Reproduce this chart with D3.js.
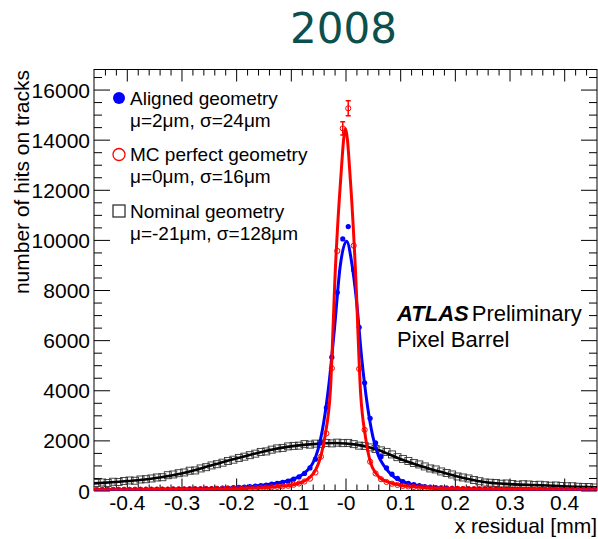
<!DOCTYPE html>
<html><head><meta charset="utf-8">
<script src="https://cdn.jsdelivr.net/npm/d3@7"></script>
<style>
body{margin:0;background:#fff}
svg{display:block}
text{font-family:"Liberation Sans",Arial,Helvetica,sans-serif;fill:#000}
</style>
</head><body>
<svg id="c" width="598" height="539"></svg>
<script>
// ---- data ----
const binLow = -0.46, binWidth = 0.01;
const nominalCounts = [300,320,300,350,340,380,400,390,440,450,480,520,530,610,640,690,720,790,800,880,
  930,1000,1050,1110,1180,1230,1300,1350,1410,1470,1540,1560,1630,1680,1700,1760,1780,1790,1850,1830,
  1870,1860,1900,1880,1910,1890,1900,1850,1790,1780,1720,1660,1600,1540,1440,1330,1260,1180,1100,1040,
  960,880,840,760,700,640,560,520,480,420,370,320,310,300,270,280,260,230,250,240,
  220,230,210,190,200,180,170,170,150,140,140,120];
const alignedCounts = [30,32,31,34,35,36,38,39,41,42,44,46,48,50,52,55,58,62,66,70,
  75,80,86,92,100,112,128,140,155,175,200,220,255,290,330,380,450,540,680,900,
  1250,1900,3300,5320,7900,10040,10530,8800,6515,4300,2880,1900,1350,900,650,480,360,290,240,195,
  160,135,118,102,92,82,75,70,64,60,56,53,50,48,46,44,42,41,40,38,
  37,36,35,34,33,32,31,30,30,29,28,28];
const mcCounts = [25,28,26,30,28,32,30,34,33,36,35,38,40,38,42,45,44,48,50,52,
  55,58,62,65,70,74,80,85,92,100,110,118,130,145,165,190,230,280,360,470,
  720,1350,2280,4880,9560,14450,15250,9770,4850,2420,1150,680,450,340,270,220,185,160,140,125,
  112,100,92,85,78,72,68,62,58,55,52,50,47,45,42,40,40,37,36,34,
  33,32,30,30,28,28,27,26,25,25,24,23];
const mcPeakBins = [45, 46];
const mcPeakErrors = [260, 300];

const alignedFitX = [-0.46,-0.40,-0.35,-0.30,-0.25,-0.22,-0.19,-0.16,-0.13,-0.11,-0.10,-0.09,-0.08,-0.07,-0.06,-0.05,-0.04,-0.03,-0.02,-0.01,0.002,0.012,0.02,0.03,0.04,0.05,0.06,0.07,0.08,0.09,0.10,0.11,0.12,0.14,0.16,0.18,0.20,0.25,0.30,0.35,0.40,0.46];
const alignedFitY = [30,38,45,55,70,90,130,190,280,360,420,500,620,800,1080,1650,2700,4300,6500,8900,9950,9000,7600,5200,3400,2150,1400,1000,720,520,400,310,250,170,120,90,70,50,42,36,32,28];
const mcFitX = [-0.46,-0.40,-0.35,-0.30,-0.25,-0.20,-0.15,-0.12,-0.1012,-0.092,-0.0828,-0.0736,-0.0644,-0.0552,-0.046,-0.0368,-0.0276,-0.0184,-0.0092,0,0.0092,0.0184,0.0276,0.0368,0.046,0.0552,0.0644,0.0736,0.0828,0.092,0.1012,0.12,0.15,0.20,0.25,0.30,0.35,0.40,0.46];
const mcFitY = [25,30,36,44,54,70,110,160,210,250,310,400,540,800,1300,2250,4000,8900,12300,14450,12300,8700,3900,2100,1100,700,480,370,300,250,210,155,105,68,52,42,36,30,25];
const nominalFitX = [-0.46,-0.42,-0.38,-0.34,-0.30,-0.26,-0.22,-0.18,-0.14,-0.10,-0.06,-0.02,0.02,0.06,0.10,0.14,0.18,0.22,0.26,0.30,0.34,0.38,0.42,0.46];
const nominalFitY = [285,340,410,520,680,910,1160,1390,1610,1760,1850,1895,1830,1620,1260,960,710,480,320,255,220,190,150,125];

const xMajorTicks = [-0.4,-0.3,-0.2,-0.1,0,0.1,0.2,0.3,0.4];
const xTickLabels = ["-0.4","-0.3","-0.2","-0.1","-0","0.1","0.2","0.3","0.4"];
const yMajorTicks = [0,2000,4000,6000,8000,10000,12000,14000,16000];

const legendEntries = [
  {name:"Aligned geometry", params:"\u03bc=2\u03bcm, \u03c3=24\u03bcm", kind:"dot", color:"#0000ff"},
  {name:"MC perfect geometry", params:"\u03bc=0\u03bcm, \u03c3=16\u03bcm", kind:"circle", color:"#ff0000"},
  {name:"Nominal geometry", params:"\u03bc=-21\u03bcm, \u03c3=128\u03bcm", kind:"square", color:"#000000"}
];

// ---- layout ----
const svg = d3.select("#c");
const F = {l:94, r:597, t:69.5, b:490.5};
const x = d3.scaleLinear().domain([-0.46,0.46]).range([F.l,F.r]);
const y = d3.scaleLinear().domain([0,16800]).range([F.b,F.t]);

svg.append("text").attr("x",343.5).attr("y",43).attr("text-anchor","middle")
  .style("font-family","'DejaVu Sans',sans-serif").style("font-size","42px").style("fill","#0d4f4c")
  .text("2008");

svg.append("clipPath").attr("id","clip").append("rect")
  .attr("x",F.l).attr("y",F.t).attr("width",F.r-F.l).attr("height",F.b-F.t);

// axes
const xMinor = d3.range(-22,23).map(k=>k*0.02).filter(v=>Math.abs(v*10-Math.round(v*10))>1e-6);
const yMinor = d3.range(0,16801,500).filter(v=>v%2000!==0);

function styleAxis(g){ g.select(".domain").remove(); g.selectAll("line").attr("stroke","#000").attr("stroke-width",1); }

svg.append("g").attr("transform",`translate(0,${F.b})`)
  .call(d3.axisBottom(x).tickValues(xMajorTicks).tickSize(-12).tickPadding(5).tickFormat((d,i)=>xTickLabels[i]))
  .call(styleAxis).call(g=>g.selectAll("text").style("font-size","21px").attr("dy","0.71em").attr("y",5));
svg.append("g").attr("transform",`translate(0,${F.b})`)
  .call(d3.axisBottom(x).tickValues(xMinor).tickSize(-6).tickFormat("")).call(styleAxis);
svg.append("g").attr("transform",`translate(0,${F.t})`)
  .call(d3.axisTop(x).tickValues(xMajorTicks).tickSize(-12).tickFormat("")).call(styleAxis);
svg.append("g").attr("transform",`translate(0,${F.t})`)
  .call(d3.axisTop(x).tickValues(xMinor).tickSize(-6).tickFormat("")).call(styleAxis);

svg.append("g").attr("transform",`translate(${F.l},0)`)
  .call(d3.axisLeft(y).tickValues(yMajorTicks).tickSize(-16).tickPadding(4).tickFormat(d3.format("d")))
  .call(styleAxis).call(g=>g.selectAll("text").style("font-size","21px").attr("dy","0.36em"));
svg.append("g").attr("transform",`translate(${F.l},0)`)
  .call(d3.axisLeft(y).tickValues(yMinor).tickSize(-8).tickFormat("")).call(styleAxis);
svg.append("g").attr("transform",`translate(${F.r},0)`)
  .call(d3.axisRight(y).tickValues(yMajorTicks).tickSize(-16).tickFormat("")).call(styleAxis);
svg.append("g").attr("transform",`translate(${F.r},0)`)
  .call(d3.axisRight(y).tickValues(yMinor).tickSize(-8).tickFormat("")).call(styleAxis);

svg.append("rect").attr("x",F.l).attr("y",F.t).attr("width",F.r-F.l).attr("height",F.b-F.t)
  .attr("fill","none").attr("stroke","#000").attr("stroke-width",1);

// axis titles
svg.append("text").attr("transform","translate(29,70) rotate(-90)").attr("text-anchor","end")
  .style("font-size","21px").text("number of hits on tracks");
svg.append("text").attr("x",597).attr("y",533).attr("text-anchor","end")
  .style("font-size","21px").text("x residual [mm]");

// marks
const plot = svg.append("g").attr("clip-path","url(#clip)");
const center = i => binLow + binWidth*(i+0.5);
const line = (xs, ys) => d3.line().x((d,i)=>x(xs[i])).y(d=>y(d)).curve(d3.curveMonotoneX)(ys);

plot.append("g").selectAll("rect").data(nominalCounts).join("rect")
  .attr("x",(d,i)=>x(center(i))-3.5).attr("y",d=>y(d)-3.5).attr("width",7).attr("height",7)
  .attr("fill","none").attr("stroke","#333").attr("stroke-width",0.9);
plot.append("path").attr("d",line(nominalFitX,nominalFitY)).attr("fill","none").attr("stroke","#000").attr("stroke-width",2.6);

plot.append("g").selectAll("circle").data(alignedCounts).join("circle")
  .attr("cx",(d,i)=>x(center(i))).attr("cy",d=>y(d)).attr("r",2.6).attr("fill","#0000ff");
plot.append("path").attr("d",line(alignedFitX,alignedFitY)).attr("fill","none").attr("stroke","#0000ff").attr("stroke-width",3);

plot.append("g").selectAll("line").data(mcPeakBins).join("line")
  .attr("x1",d=>x(center(d))).attr("x2",d=>x(center(d)))
  .attr("y1",(d,i)=>y(mcCounts[d]-mcPeakErrors[i])).attr("y2",(d,i)=>y(mcCounts[d]+mcPeakErrors[i]))
  .attr("stroke","#ff0000").attr("stroke-width",1.5);
mcPeakBins.forEach((b,i)=>{
  [mcCounts[b]-mcPeakErrors[i], mcCounts[b]+mcPeakErrors[i]].forEach(v=>{
    plot.append("line").attr("x1",x(center(b))-2.5).attr("x2",x(center(b))+2.5)
      .attr("y1",y(v)).attr("y2",y(v)).attr("stroke","#ff0000").attr("stroke-width",1.5);
  });
});
plot.append("g").selectAll("circle").data(mcCounts).join("circle")
  .attr("cx",(d,i)=>x(center(i))).attr("cy",d=>y(d)).attr("r",2.6)
  .attr("fill","none").attr("stroke","#ff0000").attr("stroke-width",1);
plot.append("path").attr("d",line(mcFitX,mcFitY)).attr("fill","none").attr("stroke","#ff0000").attr("stroke-width",3);

// legend
const lg = svg.append("g");
legendEntries.forEach((e,i)=>{
  const by = 104.5 + i*56.5;
  const my = by - 6.5;
  if(e.kind==="dot") lg.append("circle").attr("cx",119).attr("cy",my).attr("r",6).attr("fill",e.color);
  if(e.kind==="circle") lg.append("circle").attr("cx",119).attr("cy",my).attr("r",6).attr("fill","none").attr("stroke",e.color).attr("stroke-width",1.3);
  if(e.kind==="square") lg.append("rect").attr("x",113).attr("y",my-6).attr("width",12).attr("height",12).attr("fill","none").attr("stroke","#222").attr("stroke-width",1.2);
  lg.append("text").attr("x",130).attr("y",by).style("font-size","19px").text(e.name);
  lg.append("text").attr("x",130).attr("y",by+22).style("font-size","19px").text(e.params);
});

// ATLAS label
const at = svg.append("text").attr("x",397).attr("y",321).style("font-size","22px");
at.append("tspan").style("font-weight","bold").style("font-style","italic").text("ATLAS");
at.append("tspan").attr("dx",3).text("Preliminary");
svg.append("text").attr("x",397).attr("y",347).style("font-size","22px").text("Pixel Barrel");
</script>
</body></html>
